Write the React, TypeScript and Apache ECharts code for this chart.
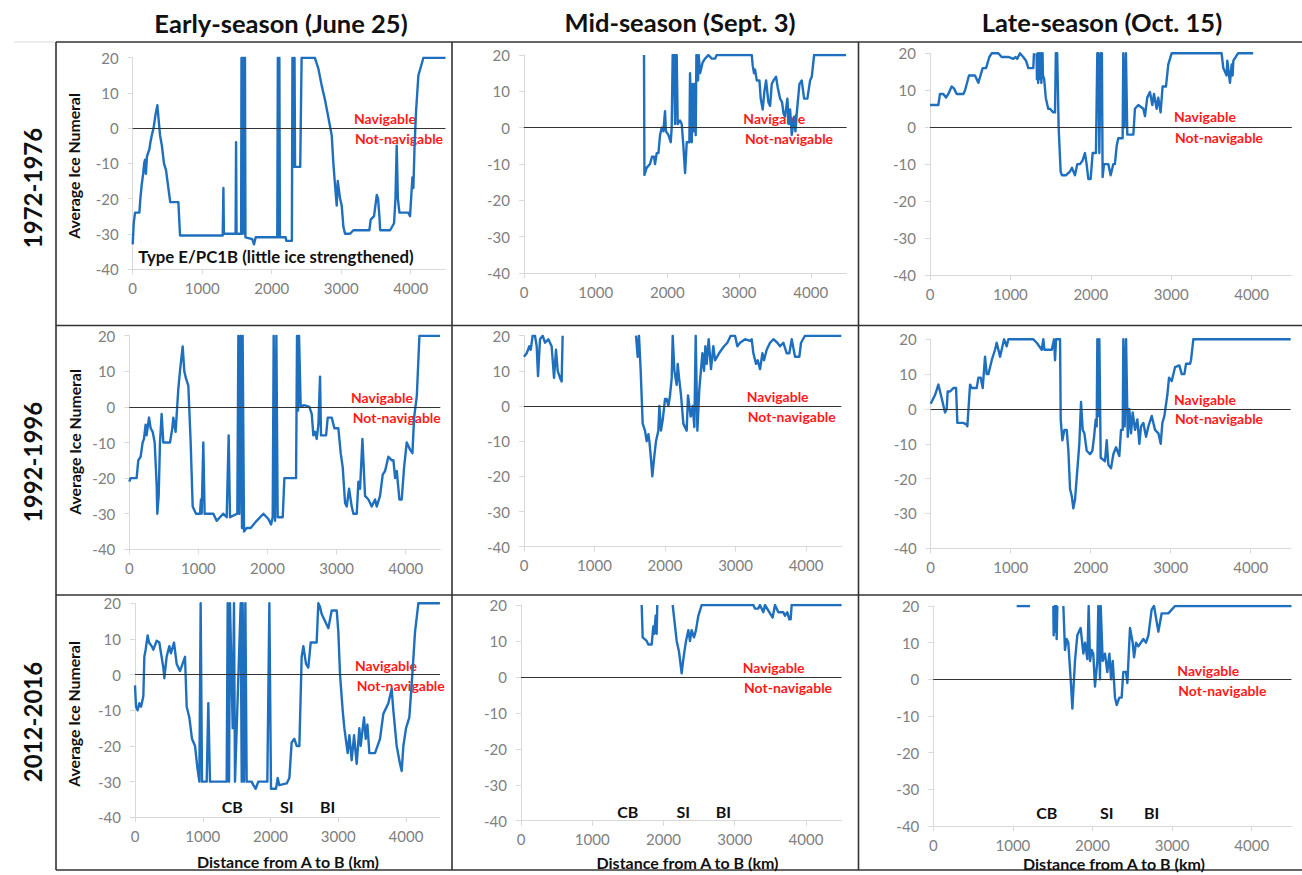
import React, { useEffect, useRef } from "react";
import * as echarts from "echarts";

type Pt = [number, number | null];

const columnTitles = ["Early-season (June 25)", "Mid-season (Sept. 3)", "Late-season (Oct. 15)"];
const rowTitles = ["1972-1976", "1992-1996", "2012-2016"];
const xTickValues = [0, 1000, 2000, 3000, 4000];
const yTickValues = [-40, -30, -20, -10, 0, 10, 20];
const yAxisTitle = "Average Ice Numeral";
const xAxisTitle = "Distance from A to B (km)";
const navLabel = "Navigable";
const notNavLabel = "Not-navigable";
const shipTypeNote = "Type E/PC1B (little ice strengthened)";
const placeLabels = ["CB", "SI", "BI"];

const early1972: Pt[] = [
  [0, -33], [15, -27], [34, -24], [96, -24], [110, -20], [130, -16], [150, -13], [165, -10], [177, -9], [190, -13],
  [205, -8], [240, -6], [255, -4], [275, -2], [300, 0], [330, 4], [355, 6.5], [375, 2], [393, -2], [420, -5],
  [450, -10], [480, -12], [513, -17], [540, -21], [657, -21], [681, -30.5], [1295, -30.5], [1305, -17], [1312, -30],
  [1480, -30], [1487, -4], [1494, -30], [1560, -30], [1565, 20], [1572, -30], [1585, 20], [1600, 20], [1605, -30],
  [1615, 20], [1622, -31], [1720, -31.5], [1745, -33], [1770, -31], [2080, -31], [2088, 20], [2096, -31], [2110, 20],
  [2118, -31], [2200, -31], [2210, -32], [2256, -32], [2290, -32], [2298, 20], [2306, -11], [2328, 20], [2336, -11],
  [2410, -11], [2430, 20], [2620, 20], [2670, 17], [2720, 12], [2767, 8], [2815, 3], [2863, -2], [2887, -10],
  [2910, -16], [2935, -22], [2950, -15], [2983, -20], [3007, -22], [3031, -28], [3055, -30], [3127, -30], [3175, -29],
  [3405, -29], [3424, -26], [3472, -25], [3511, -19], [3530, -20], [3549, -25], [3560, -29], [3703, -29], [3760, -27],
  [3780, -20], [3798, -5], [3815, -20], [3837, -24], [3966, -24], [3990, -25], [4024, -14], [4038, -17], [4055, -5],
  [4077, 5], [4110, 15], [4140, 17], [4182, 20], [4500, 20],
];

const mid1972: Pt[] = [
  [1674, 20], [1680, -13], [1712, -11], [1758, -10], [1785, -8], [1814, -8], [1828, -10], [1851, -7], [1875, -7],
  [1898, -2], [1921, 0], [1944, -1], [1967, 4.5], [1980, -1], [2014, -2], [2047, -4], [2060, 0], [2074, 20],
  [2090, 20], [2107, 1], [2116, 20], [2130, 20], [2144, 1], [2177, 2], [2200, 1], [2223, -5], [2247, -12.5],
  [2270, -4], [2307, -4], [2316, 15], [2340, -4], [2353, 12], [2370, -1], [2381, 12], [2395, -2], [2405, 20],
  [2428, 13], [2437, 20], [2456, 15], [2493, 18], [2526, 19], [2572, 20], [2619, 19], [2665, 19], [2688, 20],
  [3177, 20], [3191, 17], [3209, 15], [3223, 16], [3247, 13], [3284, 13], [3302, 8], [3330, 5], [3353, 10],
  [3377, 13], [3409, 7], [3433, 6], [3456, 12], [3480, 13], [3516, 14], [3540, 11], [3572, 8], [3600, 7],
  [3619, 4], [3642, 3], [3674, 8], [3693, 1], [3712, 5], [3735, -2], [3767, 3], [3786, -1], [3805, 4],
  [3842, 12], [3874, 13], [3907, 8], [3953, 8], [3991, 13], [4014, 14], [4047, 20], [4493, 20],
];

const late1972: Pt[] = [
  [0, 6], [104, 6], [124, 9], [166, 9], [199, 8], [228, 9], [269, 11], [298, 10.5], [332, 9], [415, 9], [436, 10],
  [485, 14], [560, 14], [601, 12], [655, 16], [697, 16], [738, 19], [767, 20], [850, 20], [891, 19], [974, 19],
  [1036, 18.5], [1065, 19], [1086, 18.5], [1119, 20], [1160, 19], [1194, 18], [1223, 16], [1285, 16], [1293, 20],
  [1310, null], [1326, 20], [1330, 13], [1340, 20], [1345, 12], [1360, 20], [1365, 13], [1380, 20], [1385, 12],
  [1400, 20], [1405, 14], [1420, 13], [1440, 8], [1470, 5], [1492, 5], [1533, 4], [1555, 4], [1565, 20], [1582, 20],
  [1600, 0], [1625, -12], [1640, -13], [1690, -13], [1741, -12], [1766, -11], [1803, -13], [1832, -10], [1865, -10],
  [1898, -9], [1927, -7], [1948, -10], [1969, -14], [1998, -14], [2023, -7], [2064, -7], [2081, 20], [2093, 20],
  [2106, -7], [2123, 20], [2138, 20], [2147, -13.5], [2164, -10], [2218, -10], [2247, -13], [2280, -10], [2300, -10],
  [2322, -5], [2342, -3], [2396, -3], [2404, 20], [2420, 0], [2437, 20], [2454, -2], [2529, -2], [2549, 5],
  [2591, 6], [2653, 5], [2674, 3], [2702, 8], [2736, 9.5], [2765, 6], [2786, 9], [2819, 5], [2839, 8], [2868, 4],
  [2893, 11], [2935, 11], [2964, 17], [3005, 20], [3627, 20], [3648, 16], [3689, 14], [3698, 18], [3731, 12],
  [3752, 17], [3764, 14], [3773, 18], [3803, 19], [3831, 20], [4020, 20],
];

const early1992: Pt[] = [
  [0, -21], [19, -20], [106, -20], [130, -15], [164, -14], [193, -10], [212, -9], [236, -5], [250, -8], [285, -3],
  [309, -6], [338, -7], [367, -10], [396, -22], [405, -30], [425, -25], [444, -10], [468, -2], [492, -10], [589, -10],
  [622, -6], [637, -3], [670, -7], [709, 5], [733, 10], [772, 17], [796, 10], [820, 8], [854, 6], [888, -10],
  [917, -28], [965, -30], [1023, -30], [1037, -26], [1047, -30], [1071, -10], [1090, -30], [1216, -30], [1264, -32],
  [1312, -31], [1361, -30], [1409, -31], [1438, -8], [1457, -31], [1563, -30], [1578, 20], [1592, -30], [1612, 20],
  [1631, -34], [1640, 20], [1660, -35], [1698, -34], [1756, -34], [1843, -32], [1940, -30], [2012, -31.5],
  [2051, -33], [2075, -31], [2089, 20], [2109, -32], [2128, 20], [2147, -31], [2220, -31], [2244, -20], [2413, -20],
  [2427, 20], [2442, -1], [2456, 20], [2480, 0], [2528, 0.5], [2606, 0], [2640, -2], [2663, -8], [2688, -7],
  [2712, -9], [2736, -5], [2760, 8.5], [2774, -8], [2847, -8], [2871, -3], [2929, -3], [2967, -6], [3025, -6],
  [3059, -13], [3088, -17], [3122, -27], [3146, -28], [3180, -23], [3218, -28], [3243, -30], [3291, -30],
  [3315, -21], [3339, -23], [3373, -9], [3411, -25], [3460, -26], [3508, -28], [3556, -26], [3580, -28],
  [3628, -25], [3667, -19], [3701, -18], [3749, -14], [3798, -15], [3822, -15], [3846, -20], [3870, -18],
  [3908, -26], [3942, -26], [3976, -17], [4014, -10], [4063, -12], [4097, -13], [4121, -3], [4160, 3],
  [4198, 20], [4497, 20],
];

const mid1992: Pt[] = [
  [0, 14], [38, 15], [76, 17], [95, 16], [123, 20], [156, 20], [180, 17], [199, 8.5], [227, 19], [265, 20],
  [298, 18], [345, 19], [392, 17], [426, 8], [454, 16], [478, 10], [511, 8], [534, 7], [548, 20], [1000, null],
  [1589, 20], [1612, 14], [1631, 20], [1655, 10], [1683, -5], [1716, -7], [1740, -10], [1764, -8], [1778, -10],
  [1801, -15], [1820, -20], [1844, -15], [1872, -10], [1905, -7], [1920, 0], [1943, -7], [1967, -4], [2000, 2],
  [2024, 2], [2047, 0], [2071, 3], [2095, 8], [2109, 20], [2133, 10], [2165, 6], [2180, 12], [2199, 8], [2227, 3],
  [2260, -5], [2307, -7], [2326, 3], [2364, -3], [2392, 0], [2416, -6], [2435, 20], [2459, -7], [2487, 5],
  [2530, 15], [2553, 10], [2572, 17], [2591, 12], [2619, 19], [2652, 10.5], [2685, 17], [2709, 13], [2766, 15],
  [2837, 17], [2884, 18], [2931, 20], [2993, 20], [3026, 17], [3064, 18], [3135, 19], [3205, 18.5], [3229, 19],
  [3253, 15], [3291, 12], [3314, 13], [3348, 10.5], [3381, 15], [3404, 13], [3442, 16], [3489, 18], [3537, 19],
  [3593, 18], [3631, 17], [3678, 18], [3726, 15], [3763, 15], [3797, 19], [3844, 14], [3905, 14], [3929, 18],
  [3986, 20], [4500, 20],
];

const late1992: Pt[] = [
  [0, 1.5], [54, 4], [96, 7], [138, 3], [179, -1], [200, 0], [212, 5], [242, 5], [283, 6], [317, 6], [333, -4],
  [408, -4], [450, -4.5], [458, -5], [492, 7], [513, 6], [575, 6], [596, 9], [625, 9], [650, 6], [679, 15],
  [700, 10], [721, 10], [763, 14], [804, 17], [825, 19], [867, 15], [917, 20], [950, 18], [971, 20], [1283, 20],
  [1325, 19], [1388, 17], [1408, 20], [1421, 17], [1513, 17], [1542, 20], [1554, 14], [1567, 20], [1617, 20],
  [1625, -3], [1646, -9], [1671, -6], [1700, -6], [1721, -12], [1742, -23], [1763, -25], [1783, -28.5], [1804, -26],
  [1858, -10], [1879, 2], [1900, -6], [1921, -7], [1950, -12], [1992, -13], [2021, -12], [2042, -8], [2063, -3],
  [2075, -5], [2083, 20], [2100, -2], [2108, 20], [2125, -14], [2179, -15], [2200, -9], [2221, -16], [2254, -17],
  [2283, -13], [2317, -11], [2358, -13.5], [2379, -6], [2400, -6], [2408, 20], [2425, -5], [2442, 20], [2463, -8],
  [2483, 0], [2504, -7], [2525, -1], [2554, -6], [2583, -3], [2608, -10], [2629, -5], [2658, -4], [2692, -8],
  [2721, -5], [2763, -2], [2804, -6], [2846, -7], [2875, -10], [2896, -4], [2921, -2], [2958, 4], [2979, 9],
  [3013, 8], [3054, 12], [3108, 12.5], [3138, 10], [3171, 10], [3192, 13], [3242, 13], [3254, 14], [3283, 20],
  [4500, 20],
];

const early2012: Pt[] = [
  [0, -3], [15, -9], [39, -10], [64, -8], [89, -9], [113, -7], [123, -6], [138, 5], [157, 7], [187, 11], [207, 9],
  [246, 8], [271, 7], [320, 9.5], [359, 9], [384, 6], [418, 2], [433, -1], [467, 5], [507, 8], [531, 6], [576, 9],
  [615, 3], [664, 1], [738, 5], [763, -9], [802, -12], [841, -18], [886, -20], [920, -26], [950, -30], [969, 20],
  [989, -30], [1058, -30], [1082, -8], [1107, -30], [1353, -30], [1368, 20], [1388, -30], [1402, 20], [1442, -15],
  [1461, 20], [1476, -30], [1560, 20], [1575, -30], [1589, 20], [1609, -30], [1629, 20], [1648, -30], [1722, -30],
  [1747, -31], [1781, -32], [1820, -30], [1953, -30], [1983, 20], [2007, -32], [2081, -32], [2106, -29],
  [2130, -31], [2239, -30.5], [2278, -29], [2312, -19], [2352, -18], [2386, -20], [2426, -20], [2460, 5], [2485, 8],
  [2524, 3], [2558, 2], [2593, 9], [2681, 9], [2706, 20], [2730, 19], [2755, 17], [2854, 13], [2903, 18],
  [2977, 18], [3001, 12], [3026, 0], [3065, -10], [3090, -15], [3139, -22], [3164, -17], [3198, -24], [3233, -17],
  [3272, -25], [3311, -15], [3331, -20], [3380, -12], [3405, -18], [3430, -14], [3459, -22], [3542, -22],
  [3616, -18], [3665, -11], [3739, -8], [3788, -4], [3813, -10], [3862, -20], [3911, -25], [3936, -27], [3961, -20],
  [4000, -15], [4049, -12], [4093, 0], [4133, 12], [4182, 20], [4500, 20],
];

const mid2012: Pt[] = [
  [1694, 20], [1708, 11], [1764, 10], [1787, 9], [1834, 9], [1857, 14], [1871, 12], [1890, 17], [1904, 12],
  [1913, 20], [2000, null], [2129, 20], [2185, 10], [2218, 7], [2255, 1], [2279, 5], [2316, 10], [2349, 13],
  [2372, 10], [2395, 13], [2428, 11], [2456, 13], [2489, 17], [2536, 20], [3261, 20], [3284, 19], [3331, 19],
  [3354, 20], [3401, 18], [3424, 20], [3532, 16.5], [3565, 20], [3612, 18], [3682, 18], [3705, 17], [3738, 18],
  [3766, 16], [3785, 16], [3799, 20], [4500, 20],
];

const late2012: Pt[] = [
  [1047, 20], [1215, 20], [1350, null], [1508, 20], [1512, 12], [1525, 20], [1530, 13], [1545, 20], [1550, 11],
  [1558, 20], [1600, null], [1634, 20], [1654, 8], [1675, 11], [1696, 10], [1726, 0], [1747, -8], [1780, 5],
  [1809, 12], [1851, 14], [1885, 7], [1906, 10], [1935, 5.5], [1952, 20], [1969, 5], [1990, 8], [2010, 7],
  [2031, -2], [2061, 5], [2073, 20], [2094, 0], [2103, 20], [2128, 5], [2157, 7], [2186, 2], [2212, 7], [2233, 0],
  [2254, 5], [2283, -5], [2304, -7], [2337, -5], [2366, -5], [2387, 2], [2421, 2], [2438, -1], [2471, 14],
  [2505, 10], [2522, 6], [2547, 10], [2576, 9], [2639, 11], [2672, 10], [2702, 12], [2743, 19], [2773, 20],
  [2827, 13], [2869, 18], [2953, 18], [2995, 19], [3037, 20], [4500, 20],
];

const panelData: Pt[][] = [early1972, mid1972, late1972, early1992, mid1992, late1992, early2012, mid2012, late2012];

// layout (pixels)
const GRIDS = [
  { left: 132.7, top: 57.7, width: 312.8, height: 211.3 },
  { left: 524, top: 55, width: 322.6, height: 218 },
  { left: 930, top: 53.3, width: 361.8, height: 221.7 },
  { left: 129.3, top: 335.7, width: 311, height: 213.6 },
  { left: 524, top: 335.7, width: 317.3, height: 211 },
  { left: 930.7, top: 339.3, width: 360, height: 209 },
  { left: 135, top: 603.3, width: 304.9, height: 214 },
  { left: 521, top: 605, width: 320.6, height: 215.7 },
  { left: 933.3, top: 606, width: 358.2, height: 220 },
];
const NAV_POS = [
  [354, 118.3, 355, 138.3], [743.3, 118.3, 745, 138.3], [1174, 116.7, 1175, 137.3],
  [351, 397.3, 352.7, 417.3], [746.7, 396.7, 747.7, 416.7], [1174, 399.3, 1175, 418.7],
  [355, 665, 356.7, 685], [742.7, 667.3, 744, 687.3], [1177.3, 670, 1178.3, 690],
];
const PLACE_POS = [
  [[232.3, 806], [286.7, 806], [327.7, 806]],
  [[627.7, 811], [683.3, 811], [723.3, 811]],
  [[1046.7, 812.7], [1106.7, 812.7], [1151.7, 812.7]],
];

const FONT = "Lato, 'Open Sans', sans-serif";
const LINE_BLUE = "#1f6fbf";
const AXIS_GRAY = "#d9d9d9";

export default function App() {
  const ref = useRef<HTMLDivElement>(null);
  useEffect(() => {
    if (!ref.current) return;
    const chart = echarts.init(ref.current, undefined, { renderer: "svg" });

    const xAxes = GRIDS.map((_, i) => ({
      type: "value",
      gridIndex: i,
      min: 0,
      max: 4500,
      interval: 1000,
      splitLine: { show: false },
      axisLine: { show: true, onZero: false, lineStyle: { color: AXIS_GRAY, width: 1 } },
      axisTick: { show: true, length: 5, customValues: xTickValues, lineStyle: { color: AXIS_GRAY } },
      axisLabel: {
        customValues: xTickValues,
        formatter: (v: number) => String(v),
        color: "#808080",
        fontSize: 15,
        fontFamily: FONT,
        margin: 11,
      },
    }));
    const yAxes = GRIDS.map((_, i) => ({
      type: "value",
      gridIndex: i,
      min: -40,
      max: 20,
      interval: 10,
      splitLine: { show: false },
      axisLine: { show: true, lineStyle: { color: AXIS_GRAY, width: 1 } },
      axisTick: { show: true, length: 5, customValues: yTickValues, lineStyle: { color: AXIS_GRAY } },
      axisLabel: {
        customValues: yTickValues,
        formatter: (v: number) => String(v),
        color: "#808080",
        fontSize: 15,
        fontFamily: FONT,
        margin: 14,
      },
    }));
    const series = panelData.map((d, i) => ({
      type: "line",
      xAxisIndex: i,
      yAxisIndex: i,
      data: d,
      showSymbol: false,
      symbol: "none",
      connectNulls: false,
      lineStyle: { color: LINE_BLUE, width: 2.4, join: "round" },
      silent: true,
      markLine: {
        silent: true,
        symbol: "none",
        label: { show: false },
        lineStyle: { color: "#333", width: 1.2, type: "solid" },
        data: [{ yAxis: 0 }],
      },
    }));

    const graphics: any[] = [];
    const line = (x1: number, y1: number, x2: number, y2: number, color = "#333", w = 1.6) =>
      graphics.push({ type: "line", shape: { x1, y1, x2, y2 }, style: { stroke: color, lineWidth: w }, silent: true });
    line(14, 42, 56, 42, "#e6e6e6", 1.5);
    line(56, 42, 1302, 42);
    line(56, 325.5, 1302, 325.5);
    line(56, 595, 1302, 595);
    line(56, 870, 1302, 870);
    line(56, 42, 56, 870);
    line(452, 42, 452, 870);
    line(858.5, 42, 858.5, 870);

    const text = (t: string, x: number, y: number, opts: any = {}) =>
      graphics.push({
        type: "text",
        x,
        y,
        rotation: opts.rotation || 0,
        silent: true,
        style: {
          text: t,
          fill: opts.fill || "#111",
          font: `${opts.weight || "bold"} ${opts.size || 14}px ${FONT}`,
          align: opts.align || "center",
          verticalAlign: "middle",
        },
      });

    const colCenters = [[281, 23], [680, 22], [1102, 22]];
    columnTitles.forEach((t, i) => text(t, colCenters[i][0], colCenters[i][1], { size: 25.5 }));
    const rowCenters = [[32, 188], [32, 462], [32, 722]];
    rowTitles.forEach((t, i) => text(t, rowCenters[i][0], rowCenters[i][1], { size: 24, rotation: Math.PI / 2 }));
    const yTitleCenters = [[73, 166], [74, 442], [73, 714]];
    yTitleCenters.forEach(([x, y]) => text(yAxisTitle, x, y, { size: 15.8, rotation: Math.PI / 2 }));
    const xTitleCenters = [[288, 861], [687.5, 862], [1114, 863.5]];
    xTitleCenters.forEach(([x, y]) => text(xAxisTitle, x, y, { size: 16 }));
    NAV_POS.forEach(([x1, y1, x2, y2]) => {
      text(navLabel, x1, y1, { size: 14, fill: "#ff1a1a", align: "left" });
      text(notNavLabel, x2, y2, { size: 14, fill: "#ff1a1a", align: "left" });
    });
    text(shipTypeNote, 138.3, 256.7, { size: 16.8, align: "left" });
    PLACE_POS.forEach((row) => row.forEach(([x, y], j) => text(placeLabels[j], x, y, { size: 16 })));

    chart.setOption({
      animation: false,
      backgroundColor: "#ffffff",
      grid: GRIDS.map((g) => ({ ...g, containLabel: false })),
      xAxis: xAxes,
      yAxis: yAxes,
      series,
      graphic: { elements: graphics },
    });
    return () => chart.dispose();
  }, []);
  return <div ref={ref} style={{ position: "absolute", left: 0, top: 0, width: 1302, height: 875 }} />;
}
